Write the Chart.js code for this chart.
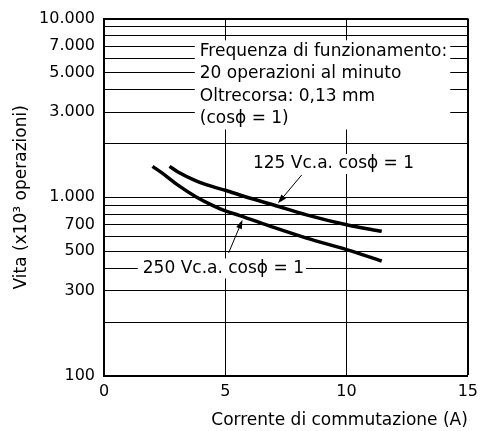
<!DOCTYPE html>
<html>
<head>
<meta charset="utf-8">
<script src="https://cdn.jsdelivr.net/npm/chart.js@4/dist/chart.umd.min.js"></script>
<style>
  html, body { margin: 0; padding: 0; background: #fff; }
  #wrap { width: 484px; height: 431px; }
</style>
</head>
<body>
<div id="wrap"><canvas id="lifeChart"></canvas></div>
<script>
// curve 250 V c.a.
const current250 = [2.0, 2.5, 3.05, 3.75, 4.45, 5.0, 5.6, 7.0, 8.35, 10.0, 11.45];
const life250 = [1490, 1335, 1170, 1015, 905, 840, 790, 678, 591, 510, 440];
// curve 125 V c.a.
const current125 = [2.7, 3.05, 3.75, 4.45, 5.0, 5.6, 7.0, 8.35, 10.0, 11.45];
const life125 = [1490, 1385, 1245, 1150, 1095, 1030, 905, 797, 702, 645];

const xTickValues = [0, 5, 10, 15];
const yGridValues = [100, 200, 300, 400, 500, 600, 700, 800, 900,
  1000, 2000, 3000, 4000, 5000, 6000, 7000, 8000, 9000, 10000];
const yLabelValues = [100, 300, 500, 700, 1000, 3000, 5000, 7000, 10000];

const infoLines = ["Frequenza di funzionamento:", "20 operazioni al minuto",
  "Oltrecorsa: 0,13 mm", "(cosϕ = 1)"];
const label125 = "125 Vc.a. cosϕ = 1";
const label250 = "250 Vc.a. cosϕ = 1";

const FONT = "'DejaVu Sans', sans-serif";

function fmt(v) {
  return String(v).replace(/\B(?=(\d{3})+(?!\d))/g, ".");
}

function toPoints(xs, ys) {
  return xs.map((x, i) => ({ x: x, y: ys[i] }));
}

function arrow(ctx, x1, y1, x2, y2) {
  const a = Math.atan2(y2 - y1, x2 - x1);
  ctx.beginPath();
  ctx.moveTo(x1, y1);
  ctx.lineTo(x2 - 6 * Math.cos(a), y2 - 6 * Math.sin(a));
  ctx.stroke();
  ctx.beginPath();
  ctx.moveTo(x2, y2);
  ctx.lineTo(x2 - 9 * Math.cos(a) + 3 * Math.sin(a), y2 - 9 * Math.sin(a) - 3 * Math.cos(a));
  ctx.lineTo(x2 - 9 * Math.cos(a) - 3 * Math.sin(a), y2 - 9 * Math.sin(a) + 3 * Math.cos(a));
  ctx.closePath();
  ctx.fill();
}

// text boxes and arrows on top of the grid
const notes = {
  id: "notes",
  afterDatasetsDraw(chart) {
    const ctx = chart.ctx;
    const xs = chart.scales.x, ys = chart.scales.y;
    const px = v => xs.getPixelForValue(v);
    const py = v => ys.getPixelForValue(v);
    ctx.save();
    ctx.font = "17px " + FONT;
    ctx.textBaseline = "middle";
    ctx.textAlign = "left";

    // info block
    const ix = px(3.95), iy = py(6560), step = 22.4;
    const iw = Math.max(...infoLines.map(t => ctx.measureText(t).width));
    ctx.fillStyle = "#fff";
    ctx.fillRect(ix - 5, iy - 11, iw + 8, step * (infoLines.length - 1) + 22);
    ctx.fillStyle = "#000";
    infoLines.forEach((t, i) => ctx.fillText(t, ix, iy + i * step));

    // curve labels
    [[label125, 6.14, 1535], [label250, 1.6, 400]].forEach(([t, x, y]) => {
      const lx = px(x), ly = py(y), w = ctx.measureText(t).width;
      ctx.fillStyle = "#fff";
      ctx.fillRect(lx - 5, ly - 10, w + 7, 20);
      ctx.fillStyle = "#000";
      ctx.fillText(t, lx, ly);
    });

    // arrows
    ctx.strokeStyle = "#000";
    ctx.fillStyle = "#000";
    ctx.lineWidth = 1;
    arrow(ctx, px(8.15), py(1333), px(7.17), py(925));
    arrow(ctx, px(5.14), py(489), px(5.71), py(748));
    ctx.restore();
  }
};

const lineStyle = {
  showLine: true,
  borderColor: "#000",
  borderWidth: 3.5,
  pointRadius: 0,
  fill: false,
  cubicInterpolationMode: "monotone"
};

new Chart(document.getElementById("lifeChart"), {
  type: "scatter",
  data: {
    datasets: [
      Object.assign({ label: "250 Vc.a.", data: toPoints(current250, life250) }, lineStyle),
      Object.assign({ label: "125 Vc.a.", data: toPoints(current125, life125) }, lineStyle)
    ]
  },
  options: {
    responsive: true,
    maintainAspectRatio: false,
    animation: false,
    layout: { padding: { left: 0, right: 16, top: 15, bottom: 0 } },
    plugins: { legend: { display: false }, tooltip: { enabled: false } },
    scales: {
      x: {
        type: "linear",
        min: 0,
        max: 15,
        afterBuildTicks: s => { s.ticks = xTickValues.map(v => ({ value: v })); },
        afterFit: s => { s.height = 55; },
        grid: {
          color: "#000",
          lineWidth: c => (c.tick && c.tick.value === 15 ? 2 : 1),
          drawTicks: false
        },
        border: { color: "#000", width: 2 },
        ticks: { color: "#000", font: { family: FONT, size: 16 }, padding: 6, autoSkip: false, maxRotation: 0 },
        title: {
          display: true,
          text: "Corrente di commutazione (A)",
          align: "end",
          color: "#000",
          font: { family: FONT, size: 17 },
          padding: { top: 0, bottom: 0 }
        }
      },
      y: {
        type: "logarithmic",
        min: 100,
        max: 10000,
        afterBuildTicks: s => { s.ticks = yGridValues.map(v => ({ value: v })); },
        afterFit: s => { s.width = 104; },
        grid: {
          color: "#000",
          lineWidth: c => (c.tick && c.tick.value === 10000 ? 2 : 1),
          drawTicks: false
        },
        border: { color: "#000", width: 2 },
        ticks: {
          color: "#000",
          font: { family: FONT, size: 16 },
          padding: 9,
          autoSkip: false,
          callback: v => (yLabelValues.includes(v) ? fmt(v) : "")
        },
        title: {
          display: true,
          text: "Vita (x10³ operazioni)",
          color: "#000",
          font: { family: FONT, size: 17 },
          padding: { top: 11, bottom: 0 }
        }
      }
    }
  },
  plugins: [notes]
});
</script>
</body>
</html>
